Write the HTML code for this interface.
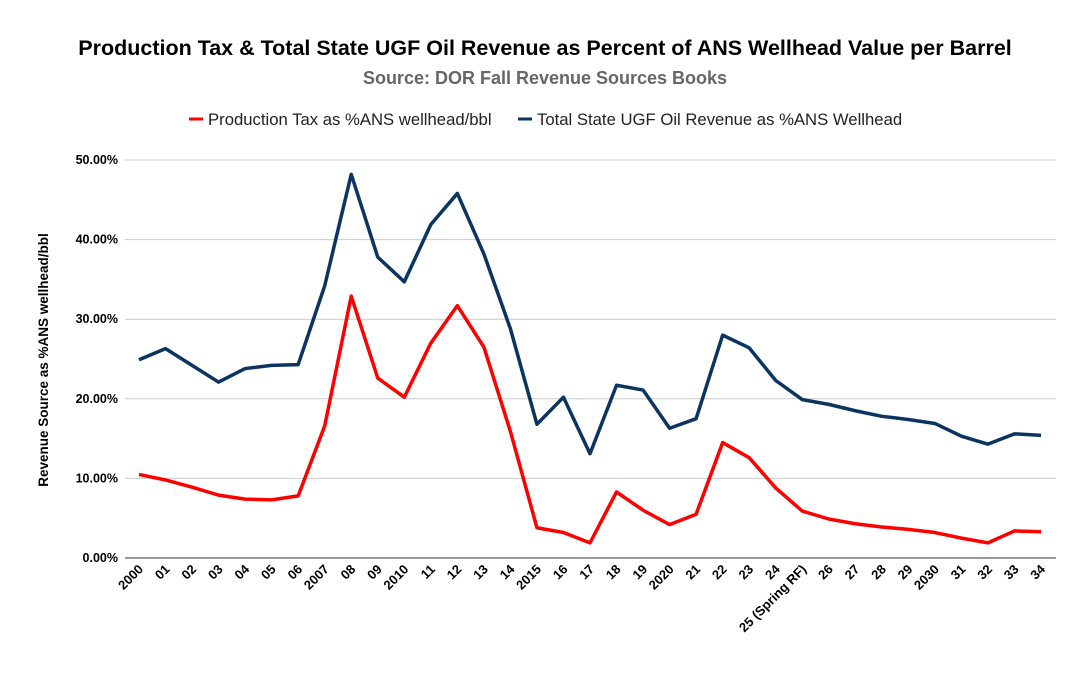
<!DOCTYPE html>
<html><head><meta charset="utf-8"><style>
body{margin:0;background:#fff;font-family:"Liberation Sans",Arial,sans-serif}
svg text{font-family:"Liberation Sans",Arial,sans-serif}
</style></head><body>
<svg id="chart" width="1090" height="674" viewBox="0 0 1090 674">
<rect width="1090" height="674" fill="#fff"/>
<text x="545" y="55" text-anchor="middle" font-size="21.5" font-weight="bold" fill="#000">Production Tax &amp; Total State UGF Oil Revenue as Percent of ANS Wellhead Value per Barrel</text>
<text x="545" y="84" text-anchor="middle" font-size="18" font-weight="bold" fill="#666">Source: DOR Fall Revenue Sources Books</text>
<g>
<g><line x1="189" y1="119" x2="203" y2="119" stroke="#ff0000" stroke-width="3"/><text x="208" y="125" font-size="16.7" fill="#222">Production Tax as %ANS wellhead/bbl</text></g>
<g><line x1="518" y1="119" x2="532" y2="119" stroke="#0b3560" stroke-width="3"/><text x="537" y="125" font-size="16.7" fill="#222">Total State UGF Oil Revenue as %ANS Wellhead</text></g>
</g>
<text transform="translate(48,360) rotate(-90)" text-anchor="middle" font-size="13.5" font-weight="bold" fill="#000">Revenue Source as %ANS wellhead/bbl</text>
<g id="grid"></g><g id="xl"></g><g id="series"></g>
</svg>
<script>
const categories=["2000","01","02","03","04","05","06","2007","08","09","2010","11","12","13","14","2015","16","17","18","19","2020","21","22","23","24","25 (Spring RF)","26","27","28","29","2030","31","32","33","34"];
const totalUgf=[24.9,26.3,24.2,22.1,23.8,24.2,24.3,34.2,48.2,37.8,34.7,41.9,45.8,38.2,28.8,16.8,20.2,13.1,21.7,21.1,16.3,17.5,28.0,26.4,22.3,19.9,19.3,18.5,17.8,17.4,16.9,15.3,14.3,15.6,15.4];
const prodTax=[10.5,9.8,8.9,7.9,7.4,7.3,7.8,16.6,32.9,22.6,20.2,27.0,31.7,26.5,15.9,3.8,3.2,1.9,8.3,6.0,4.2,5.5,14.5,12.6,8.8,5.9,4.9,4.3,3.9,3.6,3.2,2.5,1.9,3.4,3.3];
const yTicks=[0,10,20,30,40,50];
const NS="http://www.w3.org/2000/svg";
const x0=139,x1=1041,yb=558,yt=160,ymax=50,left=125,right=1056;
const xs=i=>x0+(x1-x0)*i/(categories.length-1);
const ys=v=>yb-(yb-yt)*v/ymax;
function mk(t,a,p){const e=document.createElementNS(NS,t);for(const k in a)e.setAttribute(k,a[k]);p.appendChild(e);return e;}
const g=document.getElementById('grid');
yTicks.forEach(v=>{
 const l=mk('line',{x1:left,x2:right,y1:ys(v),y2:ys(v),stroke:v===0?'#333':'#ccc','stroke-width':1},g);
 
 
 const t=mk('text',{x:118,y:ys(v)+4,'text-anchor':'end','font-size':12.5,'font-weight':'bold',fill:'#000'},g);
 t.textContent=v.toFixed(2)+'%';
 
 
});
const xl=document.getElementById('xl');
categories.forEach((c,i)=>{
 const t=mk('text',{transform:`translate(${xs(i)+5},${yb+12}) rotate(-45)`,'text-anchor':'end','font-size':13,'font-weight':'bold',fill:'#000'},xl);
 t.textContent=c;
 
 
});
const s=document.getElementById('series');
function line(d,col,name){
 const p=mk('polyline',{points:d.map((v,i)=>xs(i)+','+ys(v)).join(' '),fill:'none',stroke:col,'stroke-width':3.5,'stroke-linejoin':'round'},s);
 
 
}
line(totalUgf,'#0b3560','total-ugf-line');
line(prodTax,'#ff0000','production-tax-line');
</script>
</body></html>
